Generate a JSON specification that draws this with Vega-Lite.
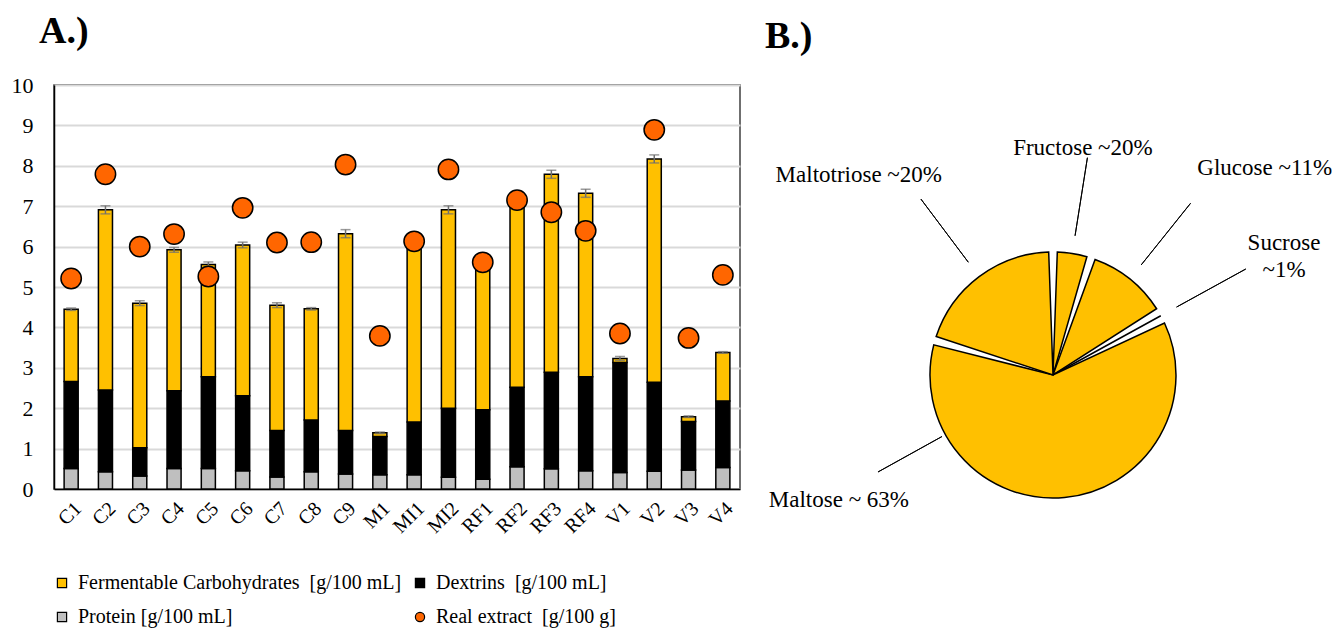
{
  "$schema": "https://vega.github.io/schema/vega-lite/v6.json",
  "background": "white",
  "padding": {"left": 10, "top": 12, "right": 0, "bottom": -37},
  "autosize": {"type": "pad"},
  "spacing": 24,
  "config": {
    "font": "Liberation Serif",
    "view": {"stroke": null},
    "axis": {"labelFont": "Liberation Serif", "labelColor": "black"},
    "legend": {"labelFont": "Liberation Serif", "labelColor": "black"}
  },
  "datasets": {
    "segments": [
      {"sample": "C1", "series": "Protein [g/100 mL]", "value": 0.51, "level": 1},
      {"sample": "C1", "series": "Dextrins\u00a0 [g/100 mL]", "value": 2.15, "level": 2},
      {"sample": "C1", "series": "Fermentable Carbohydrates\u00a0 [g/100 mL]", "value": 1.79, "level": 3},
      {"sample": "C2", "series": "Protein [g/100 mL]", "value": 0.43, "level": 1},
      {"sample": "C2", "series": "Dextrins\u00a0 [g/100 mL]", "value": 2.02, "level": 2},
      {"sample": "C2", "series": "Fermentable Carbohydrates\u00a0 [g/100 mL]", "value": 4.46, "level": 3},
      {"sample": "C3", "series": "Protein [g/100 mL]", "value": 0.32, "level": 1},
      {"sample": "C3", "series": "Dextrins\u00a0 [g/100 mL]", "value": 0.70, "level": 2},
      {"sample": "C3", "series": "Fermentable Carbohydrates\u00a0 [g/100 mL]", "value": 3.58, "level": 3},
      {"sample": "C4", "series": "Protein [g/100 mL]", "value": 0.51, "level": 1},
      {"sample": "C4", "series": "Dextrins\u00a0 [g/100 mL]", "value": 1.92, "level": 2},
      {"sample": "C4", "series": "Fermentable Carbohydrates\u00a0 [g/100 mL]", "value": 3.49, "level": 3},
      {"sample": "C5", "series": "Protein [g/100 mL]", "value": 0.51, "level": 1},
      {"sample": "C5", "series": "Dextrins\u00a0 [g/100 mL]", "value": 2.27, "level": 2},
      {"sample": "C5", "series": "Fermentable Carbohydrates\u00a0 [g/100 mL]", "value": 2.78, "level": 3},
      {"sample": "C6", "series": "Protein [g/100 mL]", "value": 0.45, "level": 1},
      {"sample": "C6", "series": "Dextrins\u00a0 [g/100 mL]", "value": 1.86, "level": 2},
      {"sample": "C6", "series": "Fermentable Carbohydrates\u00a0 [g/100 mL]", "value": 3.73, "level": 3},
      {"sample": "C7", "series": "Protein [g/100 mL]", "value": 0.30, "level": 1},
      {"sample": "C7", "series": "Dextrins\u00a0 [g/100 mL]", "value": 1.15, "level": 2},
      {"sample": "C7", "series": "Fermentable Carbohydrates\u00a0 [g/100 mL]", "value": 3.10, "level": 3},
      {"sample": "C8", "series": "Protein [g/100 mL]", "value": 0.43, "level": 1},
      {"sample": "C8", "series": "Dextrins\u00a0 [g/100 mL]", "value": 1.28, "level": 2},
      {"sample": "C8", "series": "Fermentable Carbohydrates\u00a0 [g/100 mL]", "value": 2.75, "level": 3},
      {"sample": "C9", "series": "Protein [g/100 mL]", "value": 0.37, "level": 1},
      {"sample": "C9", "series": "Dextrins\u00a0 [g/100 mL]", "value": 1.08, "level": 2},
      {"sample": "C9", "series": "Fermentable Carbohydrates\u00a0 [g/100 mL]", "value": 4.87, "level": 3},
      {"sample": "M1", "series": "Protein [g/100 mL]", "value": 0.35, "level": 1},
      {"sample": "M1", "series": "Dextrins\u00a0 [g/100 mL]", "value": 0.95, "level": 2},
      {"sample": "M1", "series": "Fermentable Carbohydrates\u00a0 [g/100 mL]", "value": 0.09, "level": 3},
      {"sample": "MI1", "series": "Protein [g/100 mL]", "value": 0.35, "level": 1},
      {"sample": "MI1", "series": "Dextrins\u00a0 [g/100 mL]", "value": 1.31, "level": 2},
      {"sample": "MI1", "series": "Fermentable Carbohydrates\u00a0 [g/100 mL]", "value": 4.45, "level": 3},
      {"sample": "MI2", "series": "Protein [g/100 mL]", "value": 0.29, "level": 1},
      {"sample": "MI2", "series": "Dextrins\u00a0 [g/100 mL]", "value": 1.71, "level": 2},
      {"sample": "MI2", "series": "Fermentable Carbohydrates\u00a0 [g/100 mL]", "value": 4.91, "level": 3},
      {"sample": "RF1", "series": "Protein [g/100 mL]", "value": 0.24, "level": 1},
      {"sample": "RF1", "series": "Dextrins\u00a0 [g/100 mL]", "value": 1.72, "level": 2},
      {"sample": "RF1", "series": "Fermentable Carbohydrates\u00a0 [g/100 mL]", "value": 3.60, "level": 3},
      {"sample": "RF2", "series": "Protein [g/100 mL]", "value": 0.55, "level": 1},
      {"sample": "RF2", "series": "Dextrins\u00a0 [g/100 mL]", "value": 1.97, "level": 2},
      {"sample": "RF2", "series": "Fermentable Carbohydrates\u00a0 [g/100 mL]", "value": 4.60, "level": 3},
      {"sample": "RF3", "series": "Protein [g/100 mL]", "value": 0.50, "level": 1},
      {"sample": "RF3", "series": "Dextrins\u00a0 [g/100 mL]", "value": 2.39, "level": 2},
      {"sample": "RF3", "series": "Fermentable Carbohydrates\u00a0 [g/100 mL]", "value": 4.90, "level": 3},
      {"sample": "RF4", "series": "Protein [g/100 mL]", "value": 0.45, "level": 1},
      {"sample": "RF4", "series": "Dextrins\u00a0 [g/100 mL]", "value": 2.33, "level": 2},
      {"sample": "RF4", "series": "Fermentable Carbohydrates\u00a0 [g/100 mL]", "value": 4.54, "level": 3},
      {"sample": "V1", "series": "Protein [g/100 mL]", "value": 0.41, "level": 1},
      {"sample": "V1", "series": "Dextrins\u00a0 [g/100 mL]", "value": 2.72, "level": 2},
      {"sample": "V1", "series": "Fermentable Carbohydrates\u00a0 [g/100 mL]", "value": 0.10, "level": 3},
      {"sample": "V2", "series": "Protein [g/100 mL]", "value": 0.44, "level": 1},
      {"sample": "V2", "series": "Dextrins\u00a0 [g/100 mL]", "value": 2.20, "level": 2},
      {"sample": "V2", "series": "Fermentable Carbohydrates\u00a0 [g/100 mL]", "value": 5.53, "level": 3},
      {"sample": "V3", "series": "Protein [g/100 mL]", "value": 0.47, "level": 1},
      {"sample": "V3", "series": "Dextrins\u00a0 [g/100 mL]", "value": 1.20, "level": 2},
      {"sample": "V3", "series": "Fermentable Carbohydrates\u00a0 [g/100 mL]", "value": 0.12, "level": 3},
      {"sample": "V4", "series": "Protein [g/100 mL]", "value": 0.53, "level": 1},
      {"sample": "V4", "series": "Dextrins\u00a0 [g/100 mL]", "value": 1.65, "level": 2},
      {"sample": "V4", "series": "Fermentable Carbohydrates\u00a0 [g/100 mL]", "value": 1.20, "level": 3}
    ],
    "samples": [
      {"sample": "C1", "total": 4.45, "err": 0.03, "extract": 5.21},
      {"sample": "C2", "total": 6.91, "err": 0.10, "extract": 7.79},
      {"sample": "C3", "total": 4.60, "err": 0.06, "extract": 6.00},
      {"sample": "C4", "total": 5.92, "err": 0.06, "extract": 6.31},
      {"sample": "C5", "total": 5.56, "err": 0.06, "extract": 5.26},
      {"sample": "C6", "total": 6.04, "err": 0.07, "extract": 6.96},
      {"sample": "C7", "total": 4.55, "err": 0.06, "extract": 6.10},
      {"sample": "C8", "total": 4.46, "err": 0.03, "extract": 6.11},
      {"sample": "C9", "total": 6.32, "err": 0.10, "extract": 8.03},
      {"sample": "M1", "total": 1.39, "err": 0.02, "extract": 3.79},
      {"sample": "MI1", "total": 6.11, "err": 0.05, "extract": 6.13},
      {"sample": "MI2", "total": 6.91, "err": 0.10, "extract": 7.91},
      {"sample": "RF1", "total": 5.56, "err": 0.04, "extract": 5.61},
      {"sample": "RF2", "total": 7.12, "err": 0.05, "extract": 7.15},
      {"sample": "RF3", "total": 7.79, "err": 0.10, "extract": 6.85},
      {"sample": "RF4", "total": 7.32, "err": 0.10, "extract": 6.39},
      {"sample": "V1", "total": 3.23, "err": 0.05, "extract": 3.85},
      {"sample": "V2", "total": 8.17, "err": 0.10, "extract": 8.89},
      {"sample": "V3", "total": 1.79, "err": 0.02, "extract": 3.74},
      {"sample": "V4", "total": 3.38, "err": 0.02, "extract": 5.30}
    ],
    "sugars": [
      {"sugar": "Fructose", "label": "Fructose ~20%", "value": 5, "n": 1},
      {"sugar": "Glucose", "label": "Glucose ~11%", "value": 11.5, "n": 2},
      {"sugar": "Sucrose", "label": "Sucrose\n~1%", "value": 1, "n": 3},
      {"sugar": "Maltose", "label": "Maltose ~ 63%", "value": 62, "n": 4},
      {"sugar": "Maltotriose", "label": "Maltotriose ~20%", "value": 20.5, "n": 5}
    ]
  },
  "hconcat": [
    {
      "width": 686,
      "height": 404,
      "view": {"stroke": "#404040", "strokeWidth": 1.5},
      "title": {"text": "A.)", "anchor": "start", "frame": "group", "dx": -15, "fontSize": 38, "fontWeight": "bold", "font": "Liberation Serif", "color": "black", "baseline": "alphabetic", "offset": -7},
      "layer": [
        {
          "data": {"name": "segments"},
          "mark": {"type": "bar", "stroke": "black", "strokeWidth": 1.5},
          "encoding": {
            "x": {"field": "sample", "type": "nominal", "sort": null,
                  "scale": {"paddingInner": 0.59, "paddingOuter": 0.295},
                  "axis": {"title": null, "labelAngle": -45, "labelFontSize": 20, "ticks": false, "domainColor": "black", "domainWidth": 1.5, "labelPadding": 9, "grid": false}},
            "y": {"field": "value", "type": "quantitative", "stack": "zero",
                  "scale": {"domain": [0, 10]},
                  "axis": {"title": null, "values": [0, 1, 2, 3, 4, 5, 6, 7, 8, 9, 10], "grid": true, "gridColor": "#d9d9d9", "gridWidth": 2, "ticks": false, "domainColor": "black", "domainWidth": 1.5, "labelFontSize": 22, "labelPadding": 21}},
            "color": {"field": "series", "type": "nominal",
                      "scale": {"domain": ["Fermentable Carbohydrates\u00a0 [g/100 mL]", "Dextrins\u00a0 [g/100 mL]", "Protein [g/100 mL]", "Real extract\u00a0 [g/100 g]"],
                                "range": ["#FFC000", "#000000", "#BFBFBF", "#FF6600"]},
                      "legend": {"orient": "none", "legendX": -2, "legendY": 488, "direction": "horizontal", "columns": 2, "title": null, "labelFontSize": 20, "symbolSize": 85, "symbolStrokeColor": "black", "symbolStrokeWidth": 1.2, "rowPadding": 14, "columnPadding": 8, "labelOffset": 6, "labelLimit": 0,
                                 "encode": {"symbols": {"update": {"size": {"value": 85}, "stroke": {"value": "black"}, "strokeWidth": {"value": 1.2}}}}}},
            "order": {"field": "level", "type": "quantitative"}
          }
        },
        {
          "data": {"name": "samples"},
          "mark": {"type": "errorbar", "color": "#6f6f6f", "thickness": 1.5, "ticks": {"size": 10}},
          "encoding": {
            "x": {"field": "sample", "type": "nominal", "sort": null},
            "y": {"field": "total", "type": "quantitative"},
            "yError": {"field": "err"}
          }
        },
        {
          "data": {"name": "samples"},
          "mark": {"type": "point", "filled": true, "size": 415, "stroke": "black", "strokeWidth": 1.5, "opacity": 1},
          "encoding": {
            "x": {"field": "sample", "type": "nominal", "sort": null},
            "y": {"field": "extract", "type": "quantitative"},
            "color": {"datum": "Real extract\u00a0 [g/100 g]"},
            "shape": {"datum": "Real extract\u00a0 [g/100 g]",
                      "scale": {"domain": ["Fermentable Carbohydrates\u00a0 [g/100 mL]", "Dextrins\u00a0 [g/100 mL]", "Protein [g/100 mL]", "Real extract\u00a0 [g/100 g]"],
                                "range": ["square", "square", "square", "circle"]},
                      "legend": {"orient": "none", "legendX": -2, "legendY": 488, "direction": "horizontal", "columns": 2, "title": null, "labelFontSize": 20, "symbolSize": 85, "symbolStrokeColor": "black", "symbolStrokeWidth": 1.2, "rowPadding": 14, "columnPadding": 8, "labelOffset": 6, "labelLimit": 0,
                                 "encode": {"symbols": {"update": {"size": {"value": 85}, "stroke": {"value": "black"}, "strokeWidth": {"value": 1.2}}}}}}
          }
        }
      ]
    },
    {
      "width": 460,
      "height": 580,
      "data": {"name": "sugars"},
      "title": {"text": "B.)", "anchor": "start", "frame": "group", "dx": -58, "fontSize": 38, "fontWeight": "bold", "font": "Liberation Serif", "color": "black", "baseline": "alphabetic", "offset": -7},
      "layer": [
        {
          "mark": {"type": "arc", "radius": 123, "padAngle": 0.07, "fill": "#FFC000", "stroke": "black", "strokeWidth": 1.5},
          "encoding": {
            "theta": {"field": "value", "type": "quantitative", "stack": true},
            "order": {"field": "n", "type": "quantitative"}
          }
        },
        {
          "mark": {"type": "arc", "radius": 220, "radius2": 141, "padAngle": 3, "filled": false, "stroke": "black", "strokeWidth": 1},
          "encoding": {
            "theta": {"field": "value", "type": "quantitative", "stack": true},
            "order": {"field": "n", "type": "quantitative"},
            "strokeOpacity": {"condition": {"test": "datum.sugar === 'Maltose'", "value": 0}, "value": 1}
          }
        },
        {
          "transform": [{"stack": "value", "groupby": [], "sort": [{"field": "n", "order": "ascending"}], "as": ["t0", "t1"]}],
          "mark": {"type": "arc", "radius": 200, "radius2": 127, "thetaOffset": 3.107, "theta2Offset": -0.789, "filled": false, "stroke": "black", "strokeWidth": 1},
          "encoding": {
            "theta": {"field": "t0", "type": "quantitative", "stack": null},
            "theta2": {"field": "t1"},
            "strokeOpacity": {"condition": {"test": "datum.sugar === 'Maltose'", "value": 1}, "value": 0}
          }
        },
        {
          "mark": {"type": "text", "radius": 229, "thetaOffset": -0.026, "fontSize": 23, "font": "Liberation Serif", "color": "black"},
          "encoding": {
            "theta": {"field": "value", "type": "quantitative", "stack": true},
            "order": {"field": "n", "type": "quantitative"},
            "text": {"field": "label", "type": "nominal"},
            "opacity": {"condition": {"test": "datum.sugar === 'Fructose'", "value": 1}, "value": 0}
          }
        },
        {
          "mark": {"type": "text", "radius": 296, "thetaOffset": 0.122, "fontSize": 23, "font": "Liberation Serif", "color": "black"},
          "encoding": {
            "theta": {"field": "value", "type": "quantitative", "stack": true},
            "order": {"field": "n", "type": "quantitative"},
            "text": {"field": "label", "type": "nominal"},
            "opacity": {"condition": {"test": "datum.sugar === 'Glucose'", "value": 1}, "value": 0}
          }
        },
        {
          "mark": {"type": "text", "radius": 266, "thetaOffset": -0.016, "fontSize": 23, "font": "Liberation Serif", "color": "black", "lineBreak": "\n", "lineHeight": 27},
          "encoding": {
            "theta": {"field": "value", "type": "quantitative", "stack": true},
            "order": {"field": "n", "type": "quantitative"},
            "text": {"field": "label", "type": "nominal"},
            "opacity": {"condition": {"test": "datum.sugar === 'Sucrose'", "value": 1}, "value": 0}
          }
        },
        {
          "mark": {"type": "text", "radius": 248, "thetaOffset": 1.136, "fontSize": 23, "font": "Liberation Serif", "color": "black"},
          "encoding": {
            "theta": {"field": "value", "type": "quantitative", "stack": true},
            "order": {"field": "n", "type": "quantitative"},
            "text": {"field": "label", "type": "nominal"},
            "opacity": {"condition": {"test": "datum.sugar === 'Maltose'", "value": 1}, "value": 0}
          }
        },
        {
          "mark": {"type": "text", "radius": 279, "thetaOffset": -0.126, "fontSize": 23, "font": "Liberation Serif", "color": "black"},
          "encoding": {
            "theta": {"field": "value", "type": "quantitative", "stack": true},
            "order": {"field": "n", "type": "quantitative"},
            "text": {"field": "label", "type": "nominal"},
            "opacity": {"condition": {"test": "datum.sugar === 'Maltotriose'", "value": 1}, "value": 0}
          }
        }
      ]
    }
  ]
}
